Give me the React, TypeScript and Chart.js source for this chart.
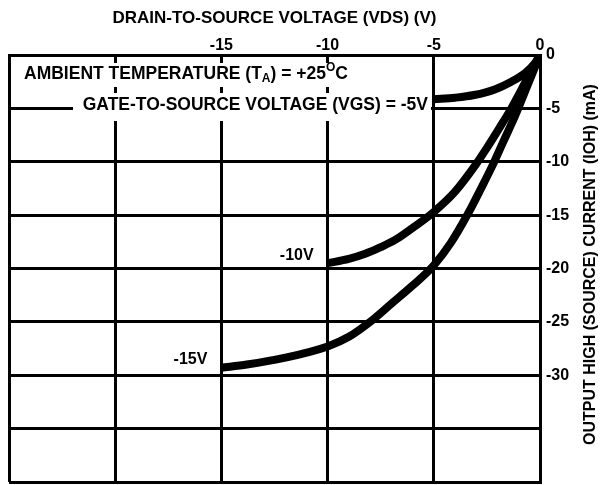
import React, { useEffect, useRef } from 'react';
import { Chart, registerables } from 'chart.js';

Chart.register(...registerables);

// Drain-to-source voltage (V) and output high current (mA) per gate voltage curve
const vdsGate5 = [-5, -4, -3.1, -2.1, -1.35, -0.7, -0.25, 0];
const iohGate5 = [-4.15, -4.0, -3.75, -3.2, -2.5, -1.7, -0.8, 0];

const vdsGate10 = [-10, -9, -8.2, -7.5, -6.8, -6, -5, -4, -3, -2.5, -1.9, -1.35, -0.7, 0];
const iohGate10 = [-19.5, -19.1, -18.6, -18.0, -17.3, -16.2, -14.7, -12.8, -10.2, -8.7, -6.8, -5.0, -2.6, 0];

const vdsGate15 = [-15, -13.8, -12.1, -10, -9, -8, -7, -6, -5, -4.2, -3.4, -2.8, -2.2, -1.7, -1.15, -0.6, 0];
const iohGate15 = [-29.3, -29.0, -28.4, -27.3, -26.4, -25.0, -23.3, -21.6, -19.7, -17.6, -14.9, -12.6, -10.2, -8.0, -5.6, -2.9, 0];

const curveLabels = ['-5V', '-10V', '-15V'];
const xLabeledTicks = [-15, -10, -5, 0];
const yLabeledTicks = [0, -5, -10, -15, -20, -25, -30];

const xTitle = 'DRAIN-TO-SOURCE VOLTAGE (VDS) (V)';
const yTitle = 'OUTPUT HIGH (SOURCE) CURRENT (IOH) (mA)';

const FONT = '"Liberation Sans", Arial, sans-serif';

function zip(xs: number[], ys: number[]) {
  return xs.map((x, i) => ({ x, y: ys[i] }));
}

const annotationPlugin = {
  id: 'annotations',
  beforeDatasetsDraw(chart: any) {
    const { ctx, chartArea: a } = chart;
    ctx.save();
    // white boxes behind the condition notes
    ctx.fillStyle = '#fff';
    ctx.fillRect(a.left + 2, a.top + 8, 352, 24);
    ctx.fillRect(a.left + 64, a.top + 38, 358, 28);
    ctx.fillStyle = '#000';
    ctx.textBaseline = 'middle';
    ctx.textAlign = 'left';
    // AMBIENT TEMPERATURE (TA) = +25°C
    let x = a.left + 15;
    const y1 = a.top + 19;
    ctx.font = `bold 17.5px ${FONT}`;
    const p1 = 'AMBIENT TEMPERATURE (T';
    ctx.fillText(p1, x, y1);
    x += ctx.measureText(p1).width;
    ctx.font = `bold 12px ${FONT}`;
    ctx.fillText('A', x, y1 + 5);
    x += ctx.measureText('A').width;
    ctx.font = `bold 17.5px ${FONT}`;
    const p2 = ') = +25';
    ctx.fillText(p2, x, y1);
    x += ctx.measureText(p2).width;
    ctx.font = `bold 12px ${FONT}`;
    ctx.fillText('O', x, y1 - 6);
    x += ctx.measureText('O').width;
    ctx.font = `bold 17.5px ${FONT}`;
    ctx.fillText('C', x, y1);
    // GATE-TO-SOURCE VOLTAGE (VGS) = -5V
    ctx.textAlign = 'right';
    ctx.fillText('GATE-TO-SOURCE VOLTAGE (VGS) = ' + curveLabels[0], a.left + 419, a.top + 50);
    ctx.restore();
  },
  afterDraw(chart: any) {
    const { ctx, chartArea: a, scales } = chart;
    const xs = scales.x;
    const ys = scales.y;
    ctx.save();
    ctx.fillStyle = '#000';
    ctx.font = `bold 16px ${FONT}`;
    ctx.textBaseline = 'middle';
    // curve labels
    ctx.textAlign = 'right';
    ctx.fillText(curveLabels[1], xs.getPixelForValue(vdsGate10[0]) - 14, ys.getPixelForValue(iohGate10[0]) - 8);
    ctx.fillText(curveLabels[2], xs.getPixelForValue(vdsGate15[0]) - 14, ys.getPixelForValue(iohGate15[0]) - 8);
    // x axis title
    ctx.textAlign = 'center';
    ctx.font = `bold 17px ${FONT}`;
    ctx.fillText(xTitle, (a.left + a.right) / 2, 18);
    // y axis title (reads bottom to top)
    ctx.font = `bold 16px ${FONT}`;
    ctx.translate(591, (a.top + a.bottom) / 2 - 4);
    ctx.rotate(-Math.PI / 2);
    ctx.fillText(yTitle, 0, 0);
    ctx.restore();
  },
};

export default function App() {
  const ref = useRef<HTMLCanvasElement | null>(null);

  useEffect(() => {
    document.body.style.margin = '0';
    const canvas = ref.current;
    if (!canvas) return;
    const lineStyle = {
      borderColor: '#000',
      backgroundColor: '#000',
      borderWidth: 8,
      pointRadius: 0,
      cubicInterpolationMode: 'monotone' as const,
      borderCapStyle: 'butt' as const,
      borderJoinStyle: 'round' as const,
      fill: false,
    };
    const chart = new Chart(canvas, {
      type: 'line',
      data: {
        datasets: [
          { label: curveLabels[0], data: zip(vdsGate5, iohGate5), ...lineStyle },
          { label: curveLabels[1], data: zip(vdsGate10, iohGate10), ...lineStyle },
          { label: curveLabels[2], data: zip(vdsGate15, iohGate15), ...lineStyle },
        ],
      },
      options: {
        responsive: false,
        animation: false,
        devicePixelRatio: 1,
        layout: { padding: { left: 9, right: 0, top: 0, bottom: 3 } },
        plugins: {
          legend: { display: false },
          tooltip: { enabled: false },
        },
        scales: {
          x: {
            type: 'linear',
            position: 'top',
            min: -25,
            max: 0,
            afterFit: (s: any) => {
              s.height = 55;
              s.paddingLeft = 0;
              s.paddingRight = 0;
            },
            ticks: {
              stepSize: 5,
              color: '#000',
              padding: 0,
              maxRotation: 0,
              autoSkip: false,
              font: { family: FONT, size: 16, weight: 'bold' },
              callback: (v: any) => (xLabeledTicks.includes(Number(v)) ? String(v) : ''),
            },
            grid: { color: '#000', lineWidth: 3, drawTicks: false },
            border: { display: true, color: '#000', width: 3 },
          },
          y: {
            type: 'linear',
            position: 'right',
            min: -40,
            max: 0,
            afterFit: (s: any) => {
              s.width = 60;
              s.paddingTop = 0;
              s.paddingBottom = 0;
            },
            ticks: {
              stepSize: 5,
              color: '#000',
              padding: 6,
              autoSkip: false,
              font: { family: FONT, size: 16, weight: 'bold' },
              callback: (v: any) => (yLabeledTicks.includes(Number(v)) ? String(v) : ''),
            },
            grid: { color: '#000', lineWidth: 3, drawTicks: false },
            border: { display: true, color: '#000', width: 3 },
          },
        },
      },
      plugins: [annotationPlugin],
    });
    return () => chart.destroy();
  }, []);

  return (
    <div style={{ width: 600, height: 485, background: '#fff' }}>
      <canvas ref={ref} width={600} height={485} style={{ display: 'block' }} />
    </div>
  );
}
